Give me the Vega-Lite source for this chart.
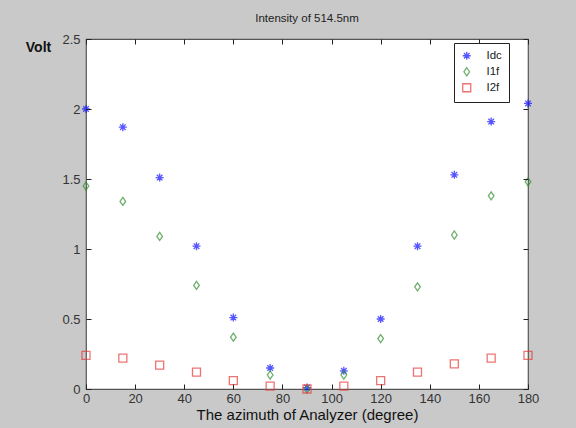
{
  "$schema": "https://vega.github.io/schema/vega-lite/v6.json",
  "width": 442,
  "height": 350,
  "autosize": {"type": "none"},
  "padding": {"left": 86, "top": 39, "right": 48, "bottom": 39},
  "background": "#c9c9c9",
  "config": {
    "view": {"fill": "white", "stroke": "#555555", "strokeWidth": 1.2},
    "font": "Liberation Sans"
  },
  "title": {"text": "Intensity of 514.5nm", "fontSize": 11.5, "fontWeight": "normal", "color": "#222222", "offset": 9, "font": "Liberation Sans"},
  "data": {"values": [
    {"angle": 0, "series": "Idc", "value": 2.0},
    {"angle": 15, "series": "Idc", "value": 1.87},
    {"angle": 30, "series": "Idc", "value": 1.51},
    {"angle": 45, "series": "Idc", "value": 1.02},
    {"angle": 60, "series": "Idc", "value": 0.51},
    {"angle": 75, "series": "Idc", "value": 0.15},
    {"angle": 90, "series": "Idc", "value": 0.01},
    {"angle": 105, "series": "Idc", "value": 0.13},
    {"angle": 120, "series": "Idc", "value": 0.50},
    {"angle": 135, "series": "Idc", "value": 1.02},
    {"angle": 150, "series": "Idc", "value": 1.53},
    {"angle": 165, "series": "Idc", "value": 1.91},
    {"angle": 180, "series": "Idc", "value": 2.04},
    {"angle": 0, "series": "I1f", "value": 1.45},
    {"angle": 15, "series": "I1f", "value": 1.34},
    {"angle": 30, "series": "I1f", "value": 1.09},
    {"angle": 45, "series": "I1f", "value": 0.74},
    {"angle": 60, "series": "I1f", "value": 0.37},
    {"angle": 75, "series": "I1f", "value": 0.10},
    {"angle": 90, "series": "I1f", "value": 0.0},
    {"angle": 105, "series": "I1f", "value": 0.10},
    {"angle": 120, "series": "I1f", "value": 0.36},
    {"angle": 135, "series": "I1f", "value": 0.73},
    {"angle": 150, "series": "I1f", "value": 1.10},
    {"angle": 165, "series": "I1f", "value": 1.38},
    {"angle": 180, "series": "I1f", "value": 1.48},
    {"angle": 0, "series": "I2f", "value": 0.24},
    {"angle": 15, "series": "I2f", "value": 0.22},
    {"angle": 30, "series": "I2f", "value": 0.17},
    {"angle": 45, "series": "I2f", "value": 0.12},
    {"angle": 60, "series": "I2f", "value": 0.06},
    {"angle": 75, "series": "I2f", "value": 0.02},
    {"angle": 90, "series": "I2f", "value": 0.0},
    {"angle": 105, "series": "I2f", "value": 0.02},
    {"angle": 120, "series": "I2f", "value": 0.06},
    {"angle": 135, "series": "I2f", "value": 0.12},
    {"angle": 150, "series": "I2f", "value": 0.18},
    {"angle": 165, "series": "I2f", "value": 0.22},
    {"angle": 180, "series": "I2f", "value": 0.24}
  ]},
  "layer": [
    {
      "mark": {"type": "point", "filled": false, "strokeWidth": 1.3, "size": 64},
      "encoding": {
        "x": {"field": "angle", "type": "quantitative", "scale": {"domain": [0, 180], "nice": false, "zero": false},
          "axis": {"values": [0, 20, 40, 60, 80, 100, 120, 140, 160, 180], "grid": false, "domain": false, "ticks": true, "tickSize": -5, "tickColor": "#222222", "tickWidth": 1, "zindex": 1, "labelFlush": false, "labelOverlap": false, "labelColor": "#333333", "labelFontSize": 13, "labelPadding": 8, "title": "The azimuth of Analyzer (degree)", "titleFontSize": 15, "titleFontWeight": "normal", "titleColor": "#111111", "titlePadding": 2}},
        "y": {"field": "value", "type": "quantitative", "scale": {"domain": [0, 2.5], "nice": false},
          "axis": {"values": [0, 0.5, 1, 1.5, 2, 2.5], "grid": false, "domain": false, "ticks": true, "tickSize": -5, "tickColor": "#222222", "tickWidth": 1, "zindex": 1, "labelFlush": false, "labelOverlap": false, "labelColor": "#333333", "labelFontSize": 13, "format": "~g", "labelPadding": 11, "title": "Volt", "titleAngle": 0, "titleFontSize": 14, "titleFontWeight": "bold", "titleColor": "#111111", "titleX": -48, "titleY": 8, "titleAlign": "center", "titleBaseline": "middle"}},
        "shape": {"field": "series", "type": "nominal",
          "scale": {"domain": ["Idc", "I1f", "I2f"], "range": ["M-1,0L1,0M0,-1L0,1M-0.7,-0.7L0.7,0.7M-0.7,0.7L0.7,-0.7", "M0,-1L0.7,0L0,1L-0.7,0Z", "square"]},
          "legend": {"title": null, "orient": "none", "legendX": 368, "legendY": 4, "fillColor": "white", "strokeColor": "#222222", "padding": 7, "labelFontSize": 11.5, "labelColor": "#222222", "rowPadding": 2, "labelOffset": 14, "symbolSize": 64, "symbolStrokeWidth": 1.3, "zindex": 2}},
        "color": {"field": "series", "type": "nominal",
          "scale": {"domain": ["Idc", "I1f", "I2f"], "range": ["#1010ff", "#2f8f2f", "#e83a3a"]},
          "legend": {"title": null, "orient": "none", "legendX": 368, "legendY": 4, "fillColor": "white", "strokeColor": "#222222", "padding": 7, "labelFontSize": 11.5, "labelColor": "#222222", "rowPadding": 2, "labelOffset": 14, "symbolSize": 64, "symbolStrokeWidth": 1.3, "zindex": 2}}
      }
    },
    {
      "mark": {"type": "point", "opacity": 0},
      "encoding": {
        "x": {"field": "angle", "type": "quantitative", "axis": {"orient": "top", "grid": false, "domain": false, "ticks": true, "tickSize": -5, "tickColor": "#222222", "tickWidth": 1, "zindex": 1, "values": [0, 20, 40, 60, 80, 100, 120, 140, 160, 180], "labels": false, "title": null}},
        "y": {"field": "value", "type": "quantitative", "axis": {"orient": "right", "grid": false, "domain": false, "ticks": true, "tickSize": -5, "tickColor": "#222222", "tickWidth": 1, "zindex": 1, "values": [0, 0.5, 1, 1.5, 2, 2.5], "labels": false, "title": null}}
      }
    }
  ],
  "resolve": {"axis": {"x": "independent", "y": "independent"}}
}
